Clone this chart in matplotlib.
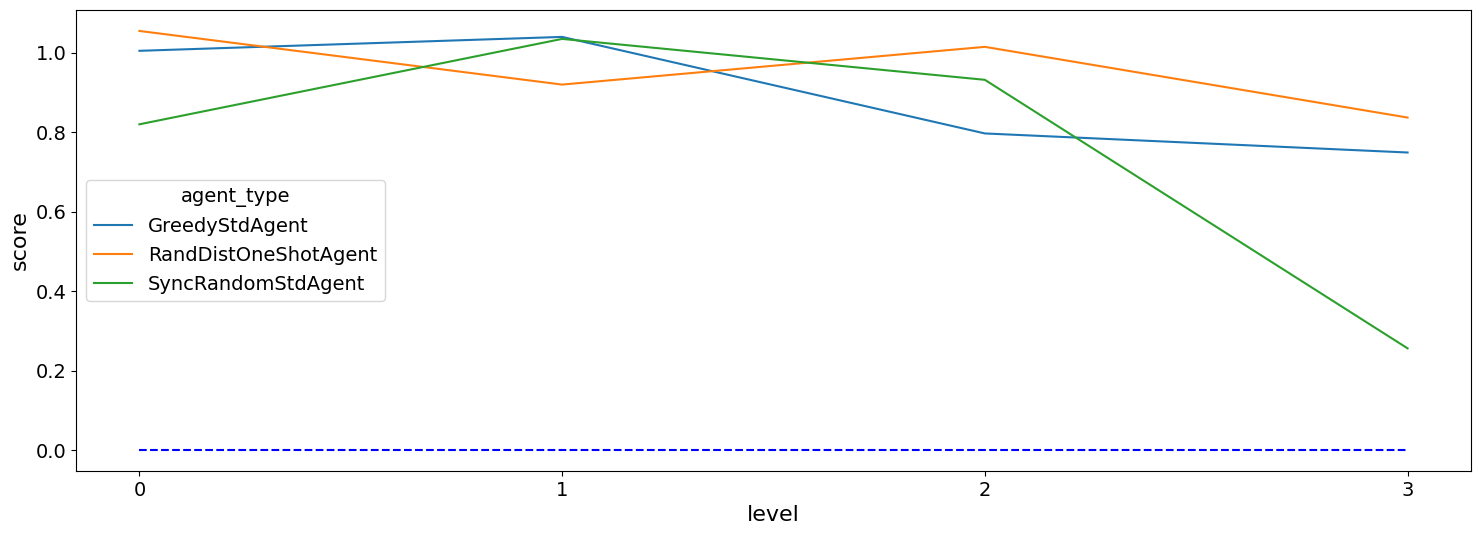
import matplotlib
matplotlib.use("Agg")
import matplotlib.pyplot as plt

# ── data ───────────────────────────────────────────────────────────────────
levels = [0, 1, 2, 3]
greedy_std = [1.005, 1.040, 0.797, 0.749]
rand_dist_one_shot = [1.055, 0.920, 1.015, 0.837]
sync_random_std = [0.820, 1.035, 0.932, 0.256]
baseline = [0.0, 0.0, 0.0, 0.0]

series = [
    ("GreedyStdAgent", greedy_std, "#1f77b4"),
    ("RandDistOneShotAgent", rand_dist_one_shot, "#ff7f0e"),
    ("SyncRandomStdAgent", sync_random_std, "#2ca02c"),
]

# ── figure ─────────────────────────────────────────────────────────────────
fig, ax = plt.subplots(figsize=(14.81, 5.36), dpi=100)
fig.subplots_adjust(left=76 / 1481, right=1471 / 1481, top=1 - 10 / 536, bottom=1 - 471 / 536)

for name, vals, col in series:
    ax.plot(levels, vals, color=col, lw=1.5, label=name)

ax.plot(levels, baseline, "b--", lw=1.5)

ax.set_xticks(levels)
ax.set_yticks([0.0, 0.2, 0.4, 0.6, 0.8, 1.0])
ax.tick_params(labelsize=14)
ax.set_xlabel("level", fontsize=16)
ax.set_ylabel("score", fontsize=16)

leg = ax.legend(title="agent_type", fontsize=14, title_fontsize=14,
                loc="center left", bbox_to_anchor=(0.0, 0.5))

fig.savefig("out.png", dpi=100)
